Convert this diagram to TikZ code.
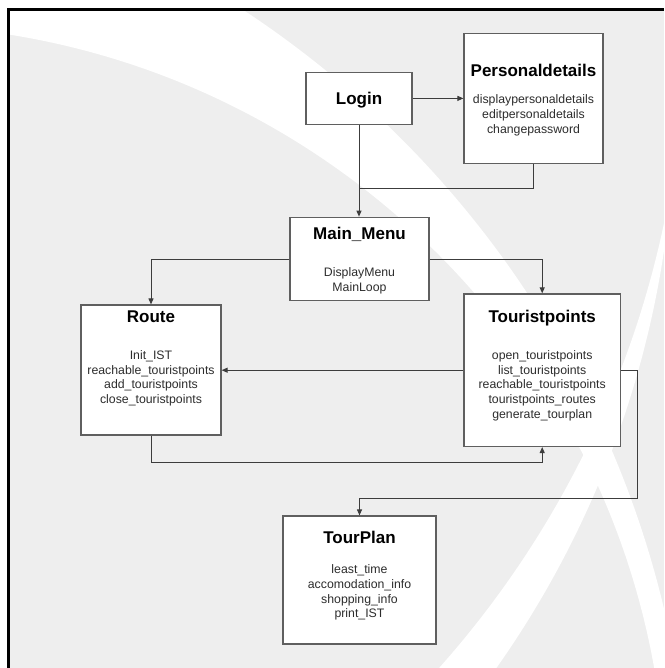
\documentclass[tikz,border=0pt]{standalone}
\usepackage{fontspec}
\setmainfont{Liberation Sans}
\usetikzlibrary{arrows.meta}
\definecolor{bggray}{RGB}{238,238,238}
\definecolor{linecol}{RGB}{60,60,60}
\definecolor{boxcol}{RGB}{95,95,95}
\definecolor{bodycol}{RGB}{45,45,45}
\begin{document}
\begin{tikzpicture}[x=1pt,y=-1pt,
  box/.style={draw=boxcol, line width=1.2pt, fill=white, inner sep=0pt},
  title/.style={font=\fontsize{17}{20}\selectfont\bfseries, anchor=base, inner sep=0pt, text=black},
  body/.style={font=\fontsize{12.3}{14.7}\selectfont, align=center, anchor=north, inner sep=0pt, text=bodycol},
  conn/.style={draw=linecol, line width=1pt},
  arr/.style={conn, -{Triangle[length=6pt,width=5pt]}}]
\useasboundingbox (0,0) rectangle (664,668);
% background
\fill[white] (0,0) rectangle (664,668);
\fill[bggray] (10.2,11) rectangle (664,668);
\begin{scope}
  \clip (10.2,11) rectangle (664,668);
  \fill[white, even odd rule] (-300.5,839.1) circle[radius=991.4pt] (-114.7,805.8) circle[radius=781pt];
  \fill[white, even odd rule] (-302.5,104.9) circle[radius=977.3pt] (-287.6,21.7) circle[radius=972.5pt];
\end{scope}
\fill[black] (7.3,8) rectangle (664,11);
\fill[black] (7.3,8) rectangle (10.2,668);

% boxes
\node[box, minimum width=106pt, minimum height=52pt] (login) at (359,98.4) {};
\node[box, minimum width=139pt, minimum height=130pt] (pers) at (533.5,98.2) {};
\node[box, minimum width=139pt, minimum height=83.5pt] (menu) at (359.5,259) {};
\node[box, minimum width=140pt, minimum height=130pt] (route) at (151,370) {};
\node[box, minimum width=156.5pt, minimum height=152.5pt] (tour) at (542.2,370.2) {};
\node[box, minimum width=153pt, minimum height=128pt] (plan) at (359.5,580) {};

% titles
\node[title] (loginT) at (359,104.3) {Login};
\node[title] (persT) at (533.5,76.5) {Personaldetails};
\node[title] (menuT) at (359.5,239) {Main\_Menu};
\node[title] (routeT) at (151,322.7) {Route};
\node[title] (tourT) at (542.2,322.7) {Touristpoints};
\node[title] (planT) at (359.5,543) {TourPlan};

% bodies
\node[body] (persB) at (533.5,94.7) {displaypersonaldetails\\editpersonaldetails\\changepassword};
\node[body] (menuB) at (359.5,267.2) {DisplayMenu\\MainLoop};
\node[body] (routeB) at (151,350.2) {Init\_IST\\reachable\_touristpoints\\add\_touristpoints\\close\_touristpoints};
\node[body] (tourB) at (542.2,350.2) {open\_touristpoints\\list\_touristpoints\\reachable\_touristpoints\\touristpoints\_routes\\generate\_tourplan};
\node[body] (planB) at (359.5,564.7) {least\_time\\accomodation\_info\\shopping\_info\\print\_IST};

% connectors
\coordinate (join) at (359,188.8);
\coordinate (rb) at (151,462.7);
\coordinate (tr) at (637,498.5);

\draw[arr] (login.east) -- (login.east -| pers.west);
\draw[arr] (login.south) -- (menu.north -| login.south);
\draw[conn] (pers.south) |- (join);
\draw[arr] (menu.west) -| (route.north);
\draw[arr] (menu.east) -| (tour.north);
\draw[arr] (tour.west) -- (tour.west -| route.east);
\draw[arr] (route.south) -- (rb) -| (tour.south);
\draw[arr] (tour.east) -| (tr) -| (plan.north);
\end{tikzpicture}
\end{document}
